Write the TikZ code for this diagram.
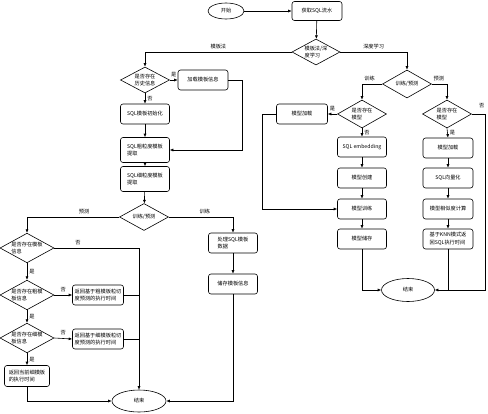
\documentclass[tikz,border=0pt]{standalone}
\usepackage{fontspec}
\newfontfamily\cjk{Noto Sans CJK SC}
\usetikzlibrary{shapes.geometric,arrows.meta}
\begin{document}
\begin{tikzpicture}[x=1pt, y=-1pt, line width=0.6pt, >={Latex[length=3.5pt,width=3pt]},
  every node/.style={font=\cjk\fontsize{5.2}{7.5}\selectfont},
  proc/.style={draw, rounded corners=2.5pt, minimum width=49pt, minimum height=20pt, inner sep=2pt, align=left},
  decide/.style={draw, diamond, shape aspect=1.8, inner sep=0pt, minimum width=49pt, minimum height=27pt, align=left},
  bigdecide/.style={decide, minimum width=54pt, minimum height=29pt},
  term/.style={draw, ellipse, inner sep=0pt, minimum width=54pt, minimum height=22pt},
  lbl/.style={inner sep=1pt}]
\useasboundingbox (0,0) rectangle (488,413);
\node[term, minimum width=36pt, minimum height=16pt] (start) at (226,11) {开始};
\node[proc, minimum width=50pt, minimum height=19pt] (fetch) at (317,11) {获取SQL流水};
\node[decide, minimum width=48pt, minimum height=26pt] (method) at (316,52) {模板法/深\\度学习};
\node[decide, minimum height=26pt] (hist) at (145,80) {是否存在\\历史信息};
\node[proc, minimum width=50pt] (loadtpl) at (203,80) {加载模板信息};
\node[proc] (init) at (145,114) {SQL模板初始化};
\node[proc, minimum height=25pt] (coarse) at (145,150) {SQL粗粒度模板\\提取};
\node[proc, minimum height=25pt] (fine) at (145,179) {SQL细粒度模板\\提取};
\node[decide] (mode) at (144,217) {训练/预测};
\node[bigdecide] (hastpl) at (27,248) {是否存在模板\\信息};
\node[bigdecide] (hascoarse) at (27,295) {是否存在粗模\\板信息};
\node[proc, minimum width=51pt] (retcoarse) at (98,295) {返回基于粗模板粒切\\度预测的执行时间};
\node[bigdecide] (hasfine) at (27,338) {是否存在细模\\板信息};
\node[proc, minimum width=51pt] (retfine) at (98,339) {返回基于细模板粒切\\度预测的执行时间};
\node[proc, minimum width=45pt, minimum height=21pt] (retcur) at (27,376) {返回当前细模板\\的执行时间};
\node[term] (endL) at (139,401) {结束};
\node[proc] (tpldata) at (233,243) {处理SQL模板\\数据};
\node[proc] (store) at (233,284) {储存模板信息};
\node[decide, minimum height=28pt] (dmode) at (407,84) {训练/预测};
\node[decide, minimum height=28pt] (hasmodel) at (362,114) {是否存在\\模型};
\node[proc, minimum width=51pt] (loadmodel) at (302,114) {模型加载};
\node[proc] (embed) at (362,147) {SQL embedding};
\node[proc] (create) at (362,178) {模型创建};
\node[proc] (train) at (362,209) {模型训练};
\node[proc] (save) at (362,239) {模型储存};
\node[term, minimum width=53pt, minimum height=23pt] (endR) at (408,290) {结束};
\node[decide, minimum height=28pt] (hasmodel2) at (447,114) {是否存在\\模型};
\node[proc, minimum width=50pt] (loadmodel2) at (448,148) {模型加载};
\node[proc, minimum width=50pt] (vec) at (448,178) {SQL向量化};
\node[proc, minimum width=50pt] (sim) at (448,209) {模型相似度计算};
\node[proc, minimum width=50pt] (knn) at (448,239) {基于KNN模式返\\回SQL执行时间};
\draw[->] (start) -- (fetch);
\draw[->] (fetch) -- (method);
\draw[->] (method.west) -| node[lbl, pos=0.25, above=2pt] {模板法} (hist.north);
\draw[->] (method.east) -| node[lbl, pos=0.25, above=2pt] {深度学习} (dmode.north);
\draw[->] (hist.east) -- node[lbl, midway, above=2pt] {是} (loadtpl.west);
\draw[->] (hist.south) -- node[lbl, midway, right=1pt] {否} (init.north);
\draw[->] (init) -- (coarse);
\draw[->] (loadtpl.east) -- ++(14,0) |- (coarse.east);
\draw[->] (coarse) -- (fine);
\draw[->] (fine) -- (mode);
\draw[->] (mode.west) -| node[lbl, pos=0.19, above=2pt] {预测} (hastpl.north);
\draw[->] (mode.east) -| node[lbl, pos=0.28, above=2pt] {训练} (tpldata.north);
\draw[->] (tpldata) -- (store);
\draw[->] (store.south) |- (endL.east);
\draw[->] (hastpl.east) -| node[lbl, pos=0.14, above=2pt] {否} (endL.north);
\draw[->] (hastpl.south) -- node[lbl, midway, right=1pt] {是} (hascoarse.north);
\draw[->] (hascoarse.east) -- node[lbl, midway, above=2pt] {否} (retcoarse.west);
\draw (retcoarse.east) -- (retcoarse.east -| endL.north);
\draw[->] (hascoarse.south) -- node[lbl, midway, right=1pt] {是} (hasfine.north);
\draw[->] (hasfine.east) -- node[lbl, midway, above=2pt] {否} (retfine.west);
\draw (retfine.east) -- (retfine.east -| endL.north);
\draw[->] (hasfine.south) -- node[lbl, midway, right=1pt] {是} (retcur.north);
\draw[->] (retcur.south) |- (endL.west);
\draw[->] (dmode.west) -| node[lbl, pos=0.31, above=2pt] {训练} (hasmodel.north);
\draw[->] (dmode.east) -| node[lbl, pos=0.23, above=2pt] {预测} (hasmodel2.north);
\draw[->] (hasmodel.west) -- node[lbl, midway, above=2pt] {是} (loadmodel.east);
\draw[->] (loadmodel.west) -- ++(-14,0) |- (train.west);
\draw[->] (hasmodel.south) -- node[lbl, midway, right=1pt] {否} (embed.north);
\draw[->] (embed) -- (create);
\draw[->] (create) -- (train);
\draw[->] (train) -- (save);
\draw[->] (save.south) |- (endR.west);
\draw[->] (hasmodel2.east) -- node[lbl, pos=0.77, above=5pt] {否} ++(13,0) |- (endR.east);
\draw[->] (hasmodel2.south) -- node[lbl, midway, right=1pt] {是} (loadmodel2.north);
\draw[->] (loadmodel2) -- (vec);
\draw[->] (vec) -- (sim);
\draw[->] (sim) -- (knn);
\draw (knn.south) -- (knn.south |- endR.east);
\end{tikzpicture}
\end{document}
